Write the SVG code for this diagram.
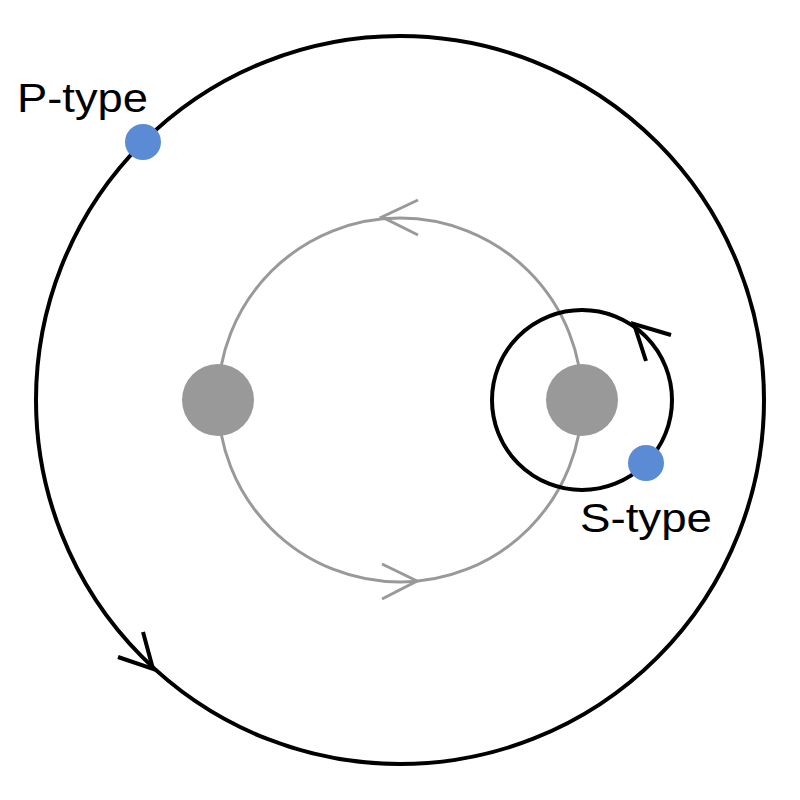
<svg xmlns="http://www.w3.org/2000/svg" width="800" height="800" viewBox="0 0 800 800">
<style>
.orbit-b{fill:none;stroke:#000;stroke-width:4}
.orbit-g{fill:none;stroke:#999;stroke-width:3}
.chev-b{fill:none;stroke:#000;stroke-width:4;stroke-linecap:butt;stroke-linejoin:miter}
.chev-g{fill:none;stroke:#999;stroke-width:3;stroke-linecap:butt;stroke-linejoin:miter}
.star{fill:#999}
.planet{fill:#5B8BD5}
.lbl{font-family:"Liberation Sans",Arial,sans-serif;font-size:41px;fill:#000}
</style>
<rect width="800" height="800" fill="#fff"/>
<g id="connectors">
<circle class="orbit-b" cx="400" cy="400" r="364"/>
<circle class="orbit-g" cx="400" cy="400" r="182"/>
<circle class="orbit-b" cx="582" cy="400" r="90"/>
<polyline class="chev-g" points="418,200 382,217 418,235"/>
<polyline class="chev-g" points="382,564 417,581 382,599"/>
<polyline class="chev-b" points="671,335 634,324 646,361"/>
<polyline class="chev-b" points="143,632 153,669 118,657"/>
</g>
<g id="star-left"><circle class="star" cx="218" cy="400" r="36"/></g>
<g id="star-right"><circle class="star" cx="582" cy="400" r="36"/></g>
<g id="p-type">
<circle class="planet" cx="143" cy="142" r="18"/>
<text class="lbl" x="17" y="112" textLength="131" lengthAdjust="spacingAndGlyphs">P-type</text>
</g>
<g id="s-type">
<circle class="planet" cx="646" cy="463" r="18"/>
<text class="lbl" x="580" y="532" textLength="132" lengthAdjust="spacingAndGlyphs">S-type</text>
</g>
</svg>
